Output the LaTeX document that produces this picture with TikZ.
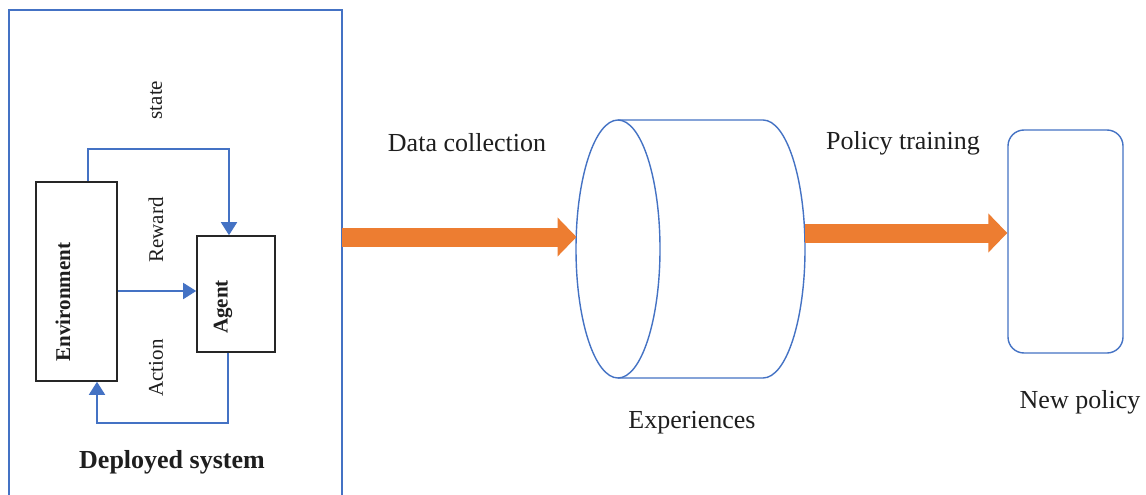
\documentclass[tikz,border=0pt]{standalone}
\usepackage{fontspec}
\setmainfont{Liberation Serif}
\usetikzlibrary{arrows.meta}
\definecolor{lineblue}{HTML}{4472C4}
\definecolor{fatorange}{HTML}{ED7D31}
\definecolor{inkgray}{HTML}{1E1E1E}
\begin{document}
\begin{tikzpicture}[x=1pt,y=-1pt,
  bigtext/.style={font=\fontsize{26}{30}\selectfont, text=inkgray, inner sep=0},
  sidetext/.style={font=\fontsize{21}{25}\selectfont, text=inkgray, inner sep=0, rotate=90},
  blackbox/.style={draw=black!85, line width=1.6pt, inner sep=0},
  flow/.style={draw=lineblue, line width=1.8pt, -{Triangle[length=13pt,width=16pt]}},
  bigarrow/.style={draw=fatorange, line width=19pt, -{Triangle[length=19pt,width=38pt]}}]
\useasboundingbox (0,0) rectangle (1146,495);
\fill[white] (0,0) rectangle (1146,495);

% deployed system frame (open at the bottom)
\node[minimum width=333pt, minimum height=486pt, inner sep=0] (deploy) at (175.5,253) {};
\draw[lineblue, line width=1.6pt] (deploy.south west) -- (deploy.north west) -- (deploy.north east) -- (deploy.south east);

% environment / agent loop
\node[blackbox, minimum width=81pt, minimum height=199pt] (env) at (76.5,281.5) {};
\node[blackbox, minimum width=78pt, minimum height=116pt] (agent) at (236,294) {};
\node[sidetext, font=\fontsize{21}{25}\selectfont\bfseries] (envlbl) at (63,302) {Environment};
\node[sidetext, font=\fontsize{21}{25}\selectfont\bfseries] (agentlbl) at (223,307) {Agent};

\draw[flow] ([xshift=11.5pt]env.north) -- ++(0,-32) -| ([xshift=-7pt]agent.north);
\draw[flow] ([yshift=-9.5pt]env.east) -- ([yshift=-9.5pt]env.east -| agent.west);
\draw[flow] ([xshift=-8pt]agent.south) -- ++(0,70) -| ([xshift=20.5pt]env.south);

\node[sidetext] (statelbl) at (156,100) {state};
\node[sidetext] (rewardlbl) at (156,230) {Reward};
\node[sidetext] (actionlbl) at (156,368) {Action};
\node[bigtext, font=\fontsize{26}{30}\selectfont\bfseries] (deploylbl) at (172,462) {Deployed system};

% experience store (horizontal cylinder)
\node[minimum width=229pt, minimum height=258pt, inner sep=0] (exp) at (690.5,249) {};
\draw[lineblue, line width=1.4pt] (618,249) ellipse [x radius=42, y radius=129];
\draw[lineblue, line width=1.4pt] (618,120) -- (763,120)
  arc[start angle=-90, end angle=90, x radius=42, y radius=129] -- (618,378);
\coordinate (inlet) at (576.5,237);
\coordinate (outlet) at (805,233);
\node[bigtext] (explbl) at (692,423) {Experiences};

% new policy
\node[draw=lineblue, line width=1.4pt, rounded corners=16pt, minimum width=115pt, minimum height=223pt, inner sep=0] (policy) at (1065.5,241.5) {};
\node[bigtext] (policylbl) at (1080,402) {New policy};

% pipeline arrows
\draw[bigarrow] (deploy.east |- inlet) -- (inlet);
\draw[bigarrow] (outlet) -- (outlet -| policy.west);
\node[bigtext] (dclbl) at (467,143) {Data collection};
\node[bigtext] (ptlbl) at (903,143) {Policy training};
\end{tikzpicture}
\end{document}
